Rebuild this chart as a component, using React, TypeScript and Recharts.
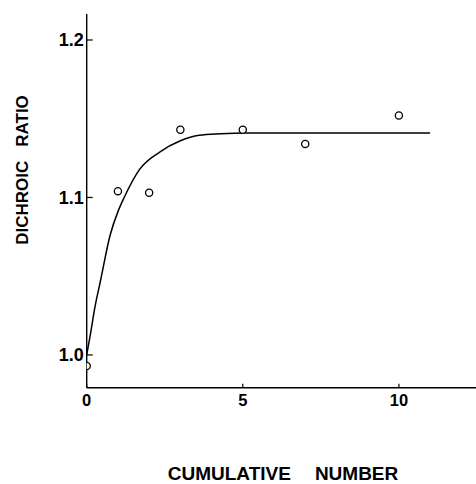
import React from 'react';
import { ComposedChart, XAxis, YAxis, Scatter, Line, Label } from 'recharts';

// Measured data points (open circles)
const pointX = [0, 1, 2, 3, 5, 7, 10];
const pointY = [0.993, 1.104, 1.103, 1.143, 1.143, 1.134, 1.152];

// Fitted curve
const curveX = [0, 0.1, 0.27, 0.43, 0.75, 1.0, 1.2, 1.7, 2.35, 3.0, 3.6, 4.3, 5, 7, 9, 11];
const curveY = [1.0, 1.011, 1.031, 1.046, 1.076, 1.091, 1.1, 1.118, 1.129, 1.136, 1.1395, 1.1405, 1.141, 1.141, 1.141, 1.141];

const xTicks = [0, 5, 10];
const yTicks = [1.0, 1.1, 1.2];

const xTitle = ['CUMULATIVE', 'NUMBER'];
const yTitle = ['DICHROIC', 'RATIO'];

const points = pointX.map((x, i) => ({ x, y: pointY[i] }));
const curve = curveX.map((x, i) => ({ x, y: curveY[i] }));

const FONT = '"Liberation Sans", Arial, Helvetica, sans-serif';

const OpenCircle = (p: any) => (
  <circle cx={p.cx} cy={p.cy} r={3.6} fill="#fff" stroke="#000" strokeWidth={1.3} />
);

export default function App() {
  return (
    <div style={{ position: 'absolute', left: 0, top: 0, width: 476, height: 484, background: '#fff' }}>
      <ComposedChart
        width={476}
        height={484}
        margin={{ top: 14, right: 0, left: 0, bottom: 0 }}
      >
        <XAxis
          type="number"
          dataKey="x"
          domain={[0, 12.47]}
          ticks={xTicks}
          allowDataOverflow
          height={96.3}
          axisLine={{ stroke: '#000', strokeWidth: 1.4 }}
          tickLine={{ stroke: '#000', strokeWidth: 1.2 }}
          tickSize={-4}
          tickMargin={11}
          tick={{ fill: '#000', fontSize: 16.5, fontWeight: 700, fontFamily: FONT }}
        >
          <Label
            content={() => (
              <text
                x={283}
                y={480}
                textAnchor="middle"
                fill="#000"
                fontSize={19}
                fontWeight={700}
                fontFamily={FONT}
              >
                <tspan>{xTitle[0]}</tspan>
                <tspan dx={24}>{xTitle[1]}</tspan>
              </text>
            )}
          />
        </XAxis>
        <YAxis
          type="number"
          dataKey="y"
          domain={[0.9792, 1.2165]}
          ticks={yTicks}
          allowDataOverflow
          width={86.7}
          axisLine={{ stroke: '#000', strokeWidth: 1.4 }}
          tickLine={{ stroke: '#000', strokeWidth: 1.2 }}
          tickSize={-6}
          tickMargin={9}
          tickFormatter={(v: number) => v.toFixed(1)}
          tick={{ fill: '#000', fontSize: 18, fontWeight: 700, fontFamily: FONT }}
        >
          <Label
            content={() => (
              <text
                x={0}
                y={0}
                transform="translate(28,170) rotate(-90)"
                textAnchor="middle"
                fill="#000"
                fontSize={17}
                fontWeight={700}
                fontFamily={FONT}
              >
                <tspan>{yTitle[0]}</tspan>
                <tspan dx={14}>{yTitle[1]}</tspan>
              </text>
            )}
          />
        </YAxis>
        <Line
          data={curve}
          dataKey="y"
          type="monotone"
          stroke="#000"
          strokeWidth={1.5}
          dot={false}
          activeDot={false}
          isAnimationActive={false}
        />
        <Scatter data={points} dataKey="y" shape={OpenCircle} isAnimationActive={false} />
      </ComposedChart>
    </div>
  );
}
